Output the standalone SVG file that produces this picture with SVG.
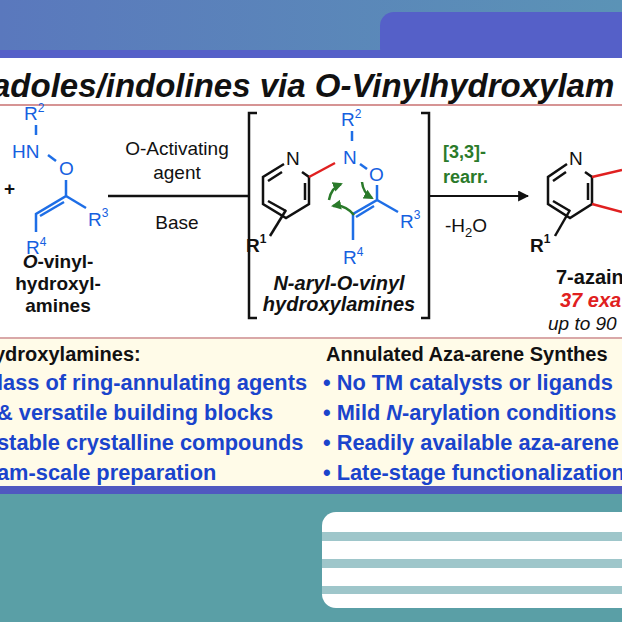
<svg xmlns="http://www.w3.org/2000/svg" width="622" height="622" viewBox="0 0 622 622">
<defs>
<linearGradient id="bg" x1="0" x2="1"><stop offset="0" stop-color="#5a78bd"/><stop offset="1" stop-color="#5b93b6"/></linearGradient>
<marker id="ah" viewBox="0 0 10 10" refX="9" refY="5" markerWidth="5" markerHeight="5" orient="auto"><path d="M0,0L10,5L0,10z" fill="#111"/></marker>
<marker id="ga" viewBox="0 0 10 10" refX="8" refY="5" markerWidth="4" markerHeight="4" orient="auto"><path d="M0,0L10,5L0,10z" fill="#2a7a2a"/></marker>
<style>
text{font-family:"Liberation Sans",Arial,sans-serif}
.t{font-size:19px;fill:#111}
.b{font-size:19px;fill:#1560e0}
.s{font-size:12px}
.bl{stroke:#1e6ee6;stroke-width:2.5;fill:none}
.k{stroke:#111;stroke-width:2.5;fill:none}
.r{stroke:#e02020;stroke-width:2.5}
.g{stroke:#2a7a2a;stroke-width:2.5;fill:none}
.li{font-size:21.8px;font-weight:bold;fill:#1a44cc}
</style>
</defs>
<rect width="622" height="622" fill="url(#bg)"/>
<rect x="380" y="12" width="260" height="50" rx="14" fill="#5560c8"/>
<rect x="0" y="50" width="622" height="10" fill="#5560c8"/>
<rect x="0" y="58" width="622" height="282" fill="#ffffff"/>
<rect x="0" y="338" width="622" height="150" fill="#fffbe8"/>
<line x1="0" y1="338" x2="622" y2="338" stroke="#d9a8a8" stroke-width="2"/>
<rect x="0" y="486" width="622" height="8" fill="#5058c0"/>
<rect x="0" y="494" width="622" height="128" fill="#5a9fa6"/>
<rect x="322" y="512" width="320" height="96" rx="14" fill="#ffffff"/>
<rect x="322" y="532" width="300" height="9" fill="#9ec6ca"/>
<rect x="322" y="559" width="300" height="9" fill="#9ec6ca"/>
<rect x="322" y="586" width="300" height="8" fill="#9ec6ca"/>

<text x="-8" y="97" font-size="33" font-weight="bold" font-style="italic" fill="#111">adoles/indolines via O-Vinylhydroxylam</text>
<line x1="0" y1="105" x2="622" y2="105" stroke="#c87070" stroke-width="1.5"/>

<g id="reagent">
<text x="4" y="195" class="t" font-weight="bold">+</text>
<text x="24" y="120" class="b">R<tspan class="s" dy="-8">2</tspan></text>
<line x1="36" y1="125" x2="36" y2="135" class="bl"/>
<text x="12" y="158" class="b">HN</text>
<line x1="48" y1="155" x2="56" y2="161" class="bl"/>
<text x="59" y="175" class="b">O</text>
<path d="M66,180 L66,196 L36,214 L36,232" class="bl"/>
<path d="M64,202 L40,216" class="bl"/>
<path d="M66,196 L86,208" class="bl"/>
<text x="88" y="226" class="b">R<tspan class="s" dy="-9">3</tspan></text>
<text x="26" y="254" class="b">R<tspan class="s" dy="-8">4</tspan></text>
<text x="58" y="268" class="t" text-anchor="middle" font-weight="bold"><tspan font-style="italic">O</tspan>-vinyl-</text>
<text x="58" y="290" class="t" text-anchor="middle" font-weight="bold">hydroxyl-</text>
<text x="58" y="312" class="t" text-anchor="middle" font-weight="bold">amines</text>
</g>

<g id="conditions">
<text x="177" y="155" class="t" text-anchor="middle">O-Activating</text>
<text x="177" y="179" class="t" text-anchor="middle">agent</text>
<text x="177" y="229" class="t" text-anchor="middle">Base</text>
</g>

<g id="intermediate">
<path d="M257,113 L249,113 L249,318 L257,318" class="k"/>
<path d="M421,113 L429,113 L429,318 L421,318" class="k"/>
<text x="286" y="165" class="t">N</text>
<path d="M284,164 L263,177 L263,204 L286,218 L309,204 L309,177 L302,172" class="k"/>
<path d="M268,181 L282,172 M268,201 L286,211 M305,183 L305,200" class="k"/>
<line x1="309" y1="177" x2="335" y2="163" class="r"/>
<line x1="286" y1="210" x2="270" y2="236" class="k"/>
<text x="246" y="252" class="t" font-weight="bold">R<tspan class="s" dy="-9">1</tspan></text>
<text x="341" y="126" class="b">R<tspan class="s" dy="-8">2</tspan></text>
<line x1="352" y1="131" x2="352" y2="141" class="bl"/>
<text x="343" y="164" class="b">N</text>
<line x1="360" y1="164" x2="367" y2="169" class="bl"/>
<text x="369" y="181" class="b">O</text>
<path d="M377,185 L377,200 L353,214 L353,240" class="bl"/>
<path d="M374,206 L356,217" class="bl"/>
<path d="M377,200 L398,212" class="bl"/>
<text x="400" y="228" class="b">R<tspan class="s" dy="-9">3</tspan></text>
<text x="343" y="264" class="b">R<tspan class="s" dy="-8">4</tspan></text>
<path d="M329,200 Q331,188 341,184" class="g" marker-end="url(#ga)"/>
<path d="M362,182 Q363,193 372,198" class="g" marker-end="url(#ga)"/>
<path d="M354,215 Q345,204 333,206" class="g" marker-end="url(#ga)"/>
<text x="339" y="290" font-size="20" fill="#111" text-anchor="middle" font-weight="bold" font-style="italic">N-aryl-O-vinyl</text>
<text x="339" y="311" font-size="20" fill="#111" text-anchor="middle" font-weight="bold" font-style="italic">hydroxylamines</text>
</g>

<g id="connectors">
<line x1="108" y1="196" x2="248" y2="196" class="k" stroke-width="2"/>
<line x1="430" y1="196" x2="528" y2="196" stroke="#111" stroke-width="2.2" marker-end="url(#ah)"/>
</g>
<text x="443" y="158" font-size="18" font-weight="bold" fill="#2a7a2a">[3,3]-</text>
<text x="443" y="183" font-size="18" font-weight="bold" fill="#2a7a2a">rearr.</text>
<text x="445" y="232" class="t">-H<tspan font-size="13" dy="5">2</tspan><tspan dy="-5">O</tspan></text>

<g id="product">
<text x="569" y="165" class="t">N</text>
<path d="M567,164 L548,177 L548,204 L570,218 L592,204 L592,177 L585,172" class="k"/>
<path d="M553,181 L566,172 M553,201 L570,211 M588,183 L588,200" class="k"/>
<line x1="592" y1="177" x2="622" y2="170" class="r"/>
<line x1="592" y1="204" x2="622" y2="212" class="r"/>
<line x1="570" y1="210" x2="555" y2="236" class="k"/>
<text x="530" y="252" class="t" font-weight="bold">R<tspan class="s" dy="-9">1</tspan></text>
<text x="556" y="284" font-size="20" fill="#111" font-weight="bold">7-azain</text>
<text x="560" y="307" font-size="20" font-weight="bold" font-style="italic" fill="#e02020">37 exa</text>
<text x="548" y="330" class="t" font-style="italic">up to 90</text>
</g>

<g id="notes">
<text x="-6" y="361" font-size="20" font-weight="bold" fill="#111">ydroxylamines:</text>
<text x="-3" y="390" class="li">lass of ring-annulating agents</text>
<text x="-3" y="420" class="li">&amp; versatile building blocks</text>
<text x="-3" y="450" class="li">stable crystalline compounds</text>
<text x="-3" y="480" class="li">am-scale preparation</text>
<text x="326" y="361" font-size="20" font-weight="bold" fill="#111">Annulated Aza-arene Synthes</text>
<text x="323" y="390" class="li">• No TM catalysts or ligands</text>
<text x="323" y="420" class="li">• Mild <tspan font-style="italic">N</tspan>-arylation conditions</text>
<text x="323" y="450" class="li">• Readily available aza-arene</text>
<text x="323" y="480" class="li">• Late-stage functionalization</text>
</g>
</svg>
